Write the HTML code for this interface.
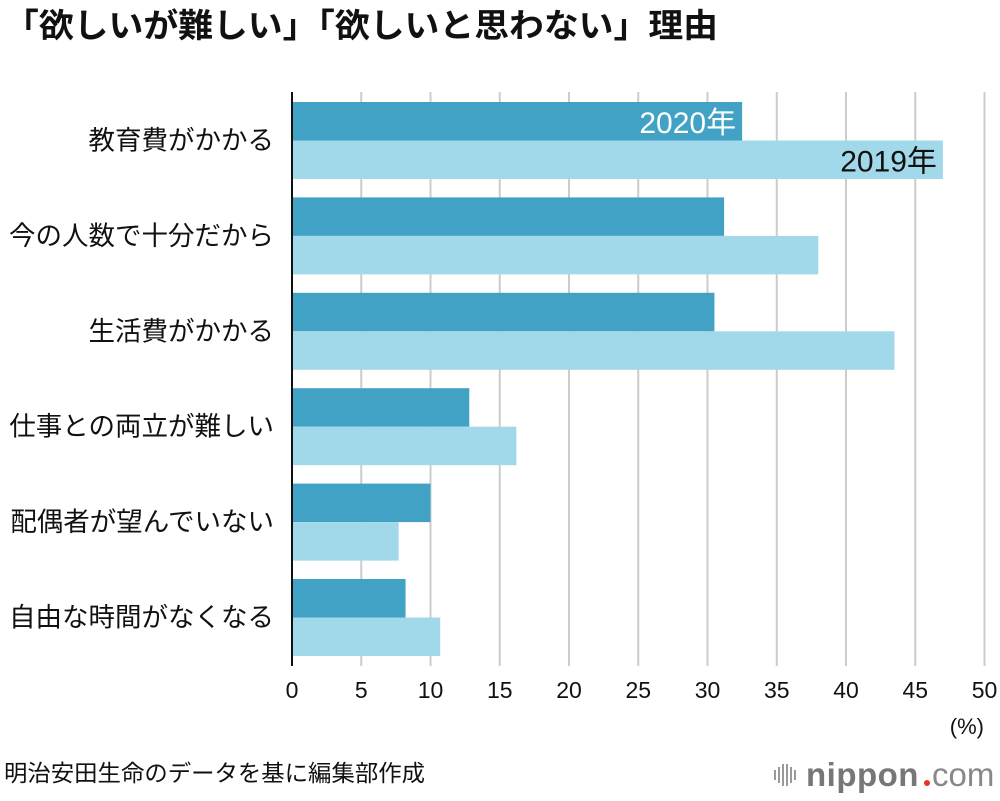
<!DOCTYPE html>
<html><head><meta charset="utf-8">
<style>
html,body{margin:0;padding:0;background:#fff;}
body{width:1000px;height:796px;overflow:hidden;font-family:"Liberation Sans","Noto Sans CJK JP",sans-serif;}
</style></head>
<body>
<svg id="chart" width="1000" height="796" xmlns="http://www.w3.org/2000/svg" font-family="'Liberation Sans','Noto Sans CJK JP',sans-serif">
<text x="4" y="37" font-size="33" font-weight="bold" fill="#111" textLength="714" lengthAdjust="spacingAndGlyphs">「欲しいが難しい」「欲しいと思わない」理由</text>
<g id="grid"></g>
<g id="bars"></g>
<g id="labels"></g>
<line x1="292" y1="92" x2="292" y2="666" stroke="#111" stroke-width="2"/>
<text x="984" y="734" font-size="22" text-anchor="end" fill="#111">(%)</text>
<text x="4" y="781" font-size="23" fill="#111" textLength="421" lengthAdjust="spacingAndGlyphs">明治安田生命のデータを基に編集部作成</text>
<g>
<g fill="#999">
<rect x="774" y="770" width="2" height="10"/><rect x="778" y="767" width="2" height="16"/><rect x="782" y="764" width="2" height="22"/><rect x="786" y="764" width="2" height="22"/><rect x="790" y="767" width="2" height="16"/><rect x="794" y="770" width="2" height="10"/>
</g>
<text x="806" y="786" font-size="33" font-weight="bold" fill="#777" letter-spacing="0.5">nippon</text>
<circle cx="927" cy="783" r="3" fill="#e5322d"/>
<text x="932" y="786" font-size="33" fill="#888">com</text>
</g>
</svg>
<script>
const categories=["教育費がかかる","今の人数で十分だから","生活費がかかる","仕事との両立が難しい","配偶者が望んでいない","自由な時間がなくなる"];
const series2020=[32.5,31.2,30.5,12.8,10.0,8.2];
const series2019=[47.0,38.0,43.5,16.2,7.7,10.7];
const xTicks=[0,5,10,15,20,25,30,35,40,45,50];
const NS="http://www.w3.org/2000/svg";
const x0=292,xScale=13.85,top0=102,pitch=95.4,barH=38.5;
function xs(v){return x0+v*xScale;}
function mk(tag,attrs,parent){const e=document.createElementNS(NS,tag);for(const k in attrs)e.setAttribute(k,attrs[k]);parent.appendChild(e);return e;}
const grid=document.getElementById('grid'),bars=document.getElementById('bars'),labels=document.getElementById('labels');
xTicks.forEach(t=>{
  if(t>0){const l=mk('line',{x1:xs(t),x2:xs(t),y1:92,y2:666,stroke:'#ccc','stroke-width':2},grid);
  
  }
  const tx=mk('text',{x:xs(t),y:698,'font-size':23,'text-anchor':'middle',fill:'#111'},labels);
  tx.textContent=t;
  
  
});
categories.forEach((c,i)=>{
  const y=top0+i*pitch;
  const b1=mk('rect',{x:x0,y:y,width:xs(series2020[i])-x0,height:barH,fill:'#41a2c5'},bars);
  
  
  const b2=mk('rect',{x:x0,y:y+barH,width:xs(series2019[i])-x0,height:barH,fill:'#a2d9ea'},bars);
  
  
  const t=mk('text',{x:274,y:y+barH+9,'font-size':26.5,'text-anchor':'end',fill:'#111'},labels);
  t.textContent=c;
  
  
  if(i===0){
    const a=mk('text',{x:xs(series2020[i])-6,y:y+31,'font-size':30,'text-anchor':'end',fill:'#fff'},labels);
    a.textContent='2020年';
    
    
    const b=mk('text',{x:xs(series2019[i])-6,y:y+barH+31,'font-size':30,'text-anchor':'end',fill:'#111'},labels);
    b.textContent='2019年';
    
    
  }
});
</script>
</body></html>
